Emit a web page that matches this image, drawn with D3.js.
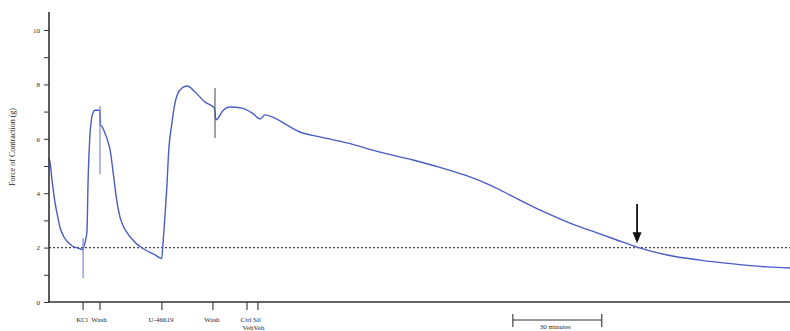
<!DOCTYPE html>
<html>
<head>
<meta charset="utf-8">
<script src="https://cdn.jsdelivr.net/npm/d3@7"></script>
<style>
  html, body { margin: 0; padding: 0; background: #fff; }
  svg { display: block; }
  text { font-family: "Liberation Serif", "DejaVu Serif", serif; fill: #2a2a2a; }
</style>
</head>
<body>
<svg id="chart" width="790" height="331"></svg>
<script>
// Tension trace: time (minutes) and force (g)
const traceTime  = [0, 0.4, 1.0, 2.0, 3.0, 3.7, 5.0, 6.4, 8.0, 9.8, 11.3, 11.8, 12.4, 12.8, 13.2, 13.8, 14.3, 14.8, 15.5, 16.5, 17.15,
  17.4, 17.9, 18.9, 20.0, 20.6, 21.6, 22.9, 24.0, 25.0, 26.3, 29.0, 32.4, 35.8, 37.4, 38.0,
  38.5, 39.2, 39.8, 40.3, 41.5, 42.3, 43.2, 44.9, 46.6, 49.3, 52.6, 55.8,
  56.3, 57.0, 58.4, 61.1, 65.1, 68.5, 71.2, 72.9, 76.2, 79.6, 84.7, 91.4, 100.5, 111.7, 122.8,
  131.9, 138.7, 142.0, 148.8, 157.9, 166.7, 175.8, 184.9, 191.6, 198.4, 208.5, 219.6, 230.8, 242.2, 250];
const traceForce = [5.3, 5.1, 4.5, 3.68, 3.1, 2.75, 2.4, 2.2, 2.05, 1.98, 1.93, 2.05, 2.3, 2.6, 4.5, 6.1, 6.7, 6.95, 7.05, 7.05, 7.05,
  6.5, 6.45, 6.2, 5.85, 5.6, 4.8, 3.7, 3.1, 2.8, 2.55, 2.2, 1.92, 1.73, 1.62, 1.6,
  2.2, 3.3, 4.3, 5.4, 6.6, 7.2, 7.6, 7.87, 7.94, 7.72, 7.35, 7.13,
  6.7, 6.75, 7.0, 7.17, 7.13, 6.95, 6.73, 6.88, 6.76, 6.55, 6.25, 6.07, 5.85, 5.51, 5.22,
  4.95, 4.72, 4.6, 4.3, 3.8, 3.33, 2.9, 2.54, 2.28, 2.02, 1.73, 1.54, 1.4, 1.29, 1.25];

// Brief artefacts when drugs are added / bath is washed
const spikeTime = [11.5, 17.2, 56.0];
const spikeLow  = [0.88, 4.7, 6.03];
const spikeHigh = [2.35, 7.2, 7.87];

// Event markers on the time axis
const eventTime   = [11.5, 17.2, 38.1, 55.3, 66.8, 70.5];
const eventLabels = [["KCl"], ["Wash"], ["U-46619"], ["Wash"], ["Ctrl", "Veh"], ["Sil", "Veh"]];

// Y ticks
const yTicks = [0, 1, 2, 3, 4, 5, 6, 7, 8, 9, 10];
const yTickLabels = ["0", "2", "4", "6", "8", "10"];

const thresholdForce = 2;
const scaleBarStart = 156.5, scaleBarMinutes = 30;
const scaleBarLabel = "30 minutes";
const arrowTime = 198.4, arrowFrom = 3.6, arrowTo = 2.2;
const yTitle = "Force of Contraction (g)";

const svg = d3.select("#chart");
const x = d3.scaleLinear().domain([0, 250]).range([49, 790]);
const y = d3.scaleLinear().domain([0, 10]).range([302, 30]);

// Threshold (dotted)
svg.append("line")
  .attr("x1", x(0)).attr("x2", x(250))
  .attr("y1", y(thresholdForce)).attr("y2", y(thresholdForce))
  .attr("stroke", "#444").attr("stroke-width", 1.3)
  .attr("stroke-dasharray", "2,2");

// Trace
const pts = traceTime.map((t, i) => [t, traceForce[i]]);
svg.append("path")
  .datum(pts)
  .attr("fill", "none")
  .attr("stroke", "#4a5cc6")
  .attr("stroke-width", 1.4)
  .attr("stroke-linejoin", "round")
  .attr("d", d3.line().x(d => x(d[0])).y(d => y(d[1])).curve(d3.curveMonotoneX));

svg.selectAll("line.spike")
  .data(spikeTime)
  .join("line")
  .attr("class", "spike")
  .attr("x1", d => x(d)).attr("x2", d => x(d))
  .attr("y1", (d, i) => y(spikeLow[i])).attr("y2", (d, i) => y(spikeHigh[i]))
  .attr("stroke", (d, i) => i === 2 ? "#555" : "#6f7fd0")
  .attr("stroke-width", 1.1);

// Y axis
const yAxis = d3.axisLeft(y)
  .tickValues(yTicks)
  .tickSize(5)
  .tickFormat(d => yTickLabels.includes(String(d)) ? String(d) : "");
const gy = svg.append("g").attr("transform", `translate(${x(0)},0)`).call(yAxis);
gy.select(".domain").remove();
gy.selectAll(".tick line").attr("stroke", "#333").attr("stroke-width", 1);
gy.selectAll(".tick text").attr("font-size", 7).attr("fill", "#2a2a2a")
  .attr("font-family", "Liberation Serif, serif").attr("dx", -1);
svg.append("line")
  .attr("x1", x(0)).attr("x2", x(0)).attr("y1", 12).attr("y2", y(0) + 0.5)
  .attr("stroke", "#333").attr("stroke-width", 1.6);

// X axis (baseline with event ticks)
svg.append("line")
  .attr("x1", x(0) - 0.8).attr("x2", x(250)).attr("y1", y(0)).attr("y2", y(0))
  .attr("stroke", "#333").attr("stroke-width", 1.6);

const ev = svg.selectAll("g.event")
  .data(eventTime)
  .join("g")
  .attr("class", "event")
  .attr("transform", d => `translate(${x(d)},${y(0)})`);
ev.append("line").attr("y1", 0).attr("y2", 8).attr("stroke", "#333").attr("stroke-width", 1.1);
ev.each(function(d, i) {
  const g = d3.select(this);
  eventLabels[i].forEach((s, j) => {
    g.append("text")
      .attr("x", j === 1 ? 1 : -1)
      .attr("y", 20 + j * 8)
      .attr("text-anchor", "middle")
      .attr("font-size", 7)
      .text(s);
  });
});

// Scale bar
const sb = svg.append("g").attr("stroke", "#333").attr("stroke-width", 1.1);
sb.append("line").attr("x1", x(scaleBarStart)).attr("x2", x(scaleBarStart + scaleBarMinutes)).attr("y1", 320).attr("y2", 320);
sb.append("line").attr("x1", x(scaleBarStart)).attr("x2", x(scaleBarStart)).attr("y1", 314).attr("y2", 327);
sb.append("line").attr("x1", x(scaleBarStart + scaleBarMinutes)).attr("x2", x(scaleBarStart + scaleBarMinutes)).attr("y1", 314).attr("y2", 327);
svg.append("text")
  .attr("x", x(scaleBarStart + scaleBarMinutes / 2) - 2).attr("y", 329)
  .attr("text-anchor", "middle").attr("font-size", 7)
  .text(scaleBarLabel);

// Arrow marking threshold crossing
svg.append("line")
  .attr("x1", x(arrowTime)).attr("x2", x(arrowTime))
  .attr("y1", y(arrowFrom)).attr("y2", y(arrowTo) - 8)
  .attr("stroke", "#111").attr("stroke-width", 1.8);
svg.append("path")
  .attr("d", `M${x(arrowTime) - 4.5},${y(arrowTo) - 10} L${x(arrowTime) + 4.5},${y(arrowTo) - 10} L${x(arrowTime)},${y(arrowTo) + 1} Z`)
  .attr("fill", "#111");

// Y axis title
svg.append("text")
  .attr("transform", `translate(15,${y(5.7)}) rotate(-90)`)
  .attr("text-anchor", "middle")
  .attr("font-size", 8)
  .text(yTitle);
</script>
</body>
</html>
